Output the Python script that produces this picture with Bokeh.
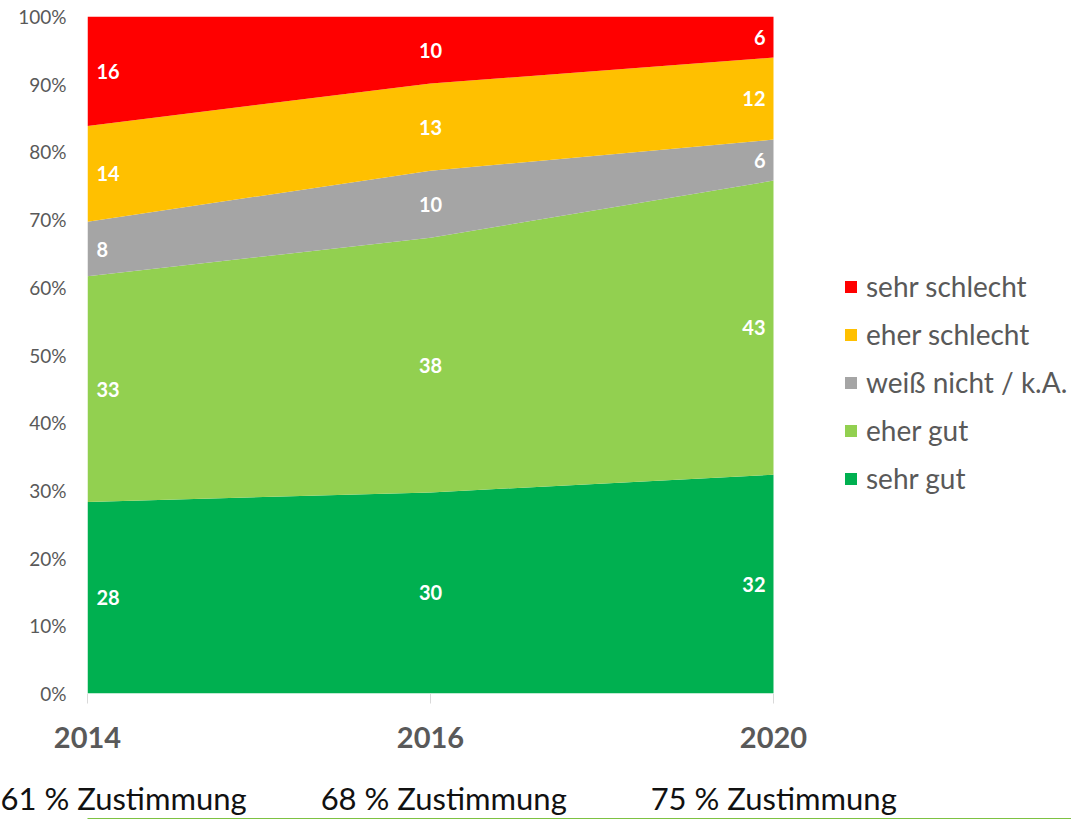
from bokeh.plotting import figure
from bokeh.models import (ColumnDataSource, Range1d, FixedTicker, NumeralTickFormatter,
                          Legend, LegendItem, LinearAxis)
from bokeh.core.properties import value
from bokeh.embed import file_html
from bokeh.resources import INLINE

years = ["2014", "2016", "2020"]
categories = ["sehr gut", "eher gut", "weiß nicht / k.A.", "eher schlecht", "sehr schlecht"]
sehr_gut = [28, 30, 32]
eher_gut = [33, 38, 43]
weiss_nicht = [8, 10, 6]
eher_schlecht = [14, 13, 12]
sehr_schlecht = [16, 10, 6]
zustimmung = ["61 % Zustimmung", "68 % Zustimmung", "75 % Zustimmung"]

colors = ["#00B050", "#92D050", "#A5A5A5", "#FFC000", "#FF0000"]
series = [sehr_gut, eher_gut, weiss_nicht, eher_schlecht, sehr_schlecht]
keys = ["s0", "s1", "s2", "s3", "s4"]

xs = list(range(len(years)))
totals = [sum(s[i] for s in series) for i in xs]
data = {"x": xs}
for k, s in zip(keys, series):
    data[k] = [s[i] / totals[i] for i in xs]
source = ColumnDataSource(data)

FRAME_W = 984
AREA_W = 686
p = figure(frame_width=FRAME_W, frame_height=677,
           min_border_left=87, min_border_right=0, min_border_top=16, min_border_bottom=126,
           x_range=Range1d(0, 2 * FRAME_W / AREA_W), y_range=Range1d(0, 1),
           output_backend="svg", toolbar_location=None)
p.grid.visible = False
p.outline_line_color = None
p.background_fill_color = "white"

renderers = p.varea_stack(stackers=keys, x="x", color=colors, source=source)

# data labels
font = value("Lato")
aligns = ["left", "center", "right"]
offsets = [9, 0, -8]
for i in xs:
    cum = 0.0
    lx, ly, lt = [], [], []
    for k, s in zip(keys, series):
        frac = data[k][i]
        lx.append(i)
        ly.append(cum + frac / 2)
        lt.append(str(s[i]))
        cum += frac
    p.text(x=lx, y=ly, text=lt, text_color="white", text_font=font,
           text_font_style="bold", text_font_size="20px",
           text_align=aligns[i], text_baseline="middle", x_offset=offsets[i])

# y axis
p.yaxis.ticker = FixedTicker(ticks=[i / 10 for i in range(11)])
p.yaxis.formatter = NumeralTickFormatter(format="0%")
p.yaxis.axis_line_color = None
p.yaxis.major_tick_line_color = None
p.yaxis.major_tick_out = 0
p.yaxis.minor_tick_line_color = None
p.yaxis.major_label_text_font = "Lato"
p.yaxis.major_label_text_font_size = "19px"
p.yaxis.major_label_text_color = "#595959"
p.yaxis.major_label_standoff = 21

# x axis (years)
p.xaxis.ticker = FixedTicker(ticks=xs)
p.xaxis.major_label_overrides = {i: years[i] for i in xs}
p.xaxis.axis_line_color = None
p.xaxis.major_tick_line_color = "#D9D9D9"
p.xaxis.major_tick_out = 10
p.xaxis.major_tick_in = 0
p.xaxis.minor_tick_line_color = None
p.xaxis.major_label_text_font = "Lato"
p.xaxis.major_label_text_font_style = "bold"
p.xaxis.major_label_text_font_size = "29px"
p.xaxis.major_label_text_color = "#595959"
p.xaxis.major_label_standoff = 23

# second row: Zustimmung (own scale for the label row)
z_slope = 330.0
z_start = -26.2 / z_slope
p.extra_x_ranges = {"z": Range1d(z_start, z_start + FRAME_W / z_slope), "g": Range1d(0, 1)}
zaxis = LinearAxis(x_range_name="z", ticker=FixedTicker(ticks=xs),
                   major_label_overrides={i: zustimmung[i] for i in xs},
                   axis_line_color=None, major_tick_line_color=None, minor_tick_line_color=None,
                   major_tick_out=0, major_label_standoff=28,
                   major_label_text_font="Lato", major_label_text_font_size="31px",
                   major_label_text_color="#111111")
p.add_layout(zaxis, "below")

# green rule at the bottom
gaxis = LinearAxis(x_range_name="g", ticker=FixedTicker(ticks=[]),
                   axis_line_color="#7DC242", axis_line_width=3,
                   major_tick_line_color=None, minor_tick_line_color=None,
                   major_label_text_font_size="0px")
p.add_layout(gaxis, "below")

# legend
items = [LegendItem(label=categories[j], renderers=[renderers[j]]) for j in [4, 3, 2, 1, 0]]
legend = Legend(items=items, location=(756, 198), orientation="vertical",
                glyph_width=15, glyph_height=15, label_text_font="Lato",
                label_text_font_size="28px", label_text_color="#595959",
                label_height=34, spacing=14, padding=0, margin=0,
                label_standoff=8, border_line_alpha=0, background_fill_alpha=0)
p.add_layout(legend, "center")

open("out.html", "w").write(file_html(p, INLINE))
